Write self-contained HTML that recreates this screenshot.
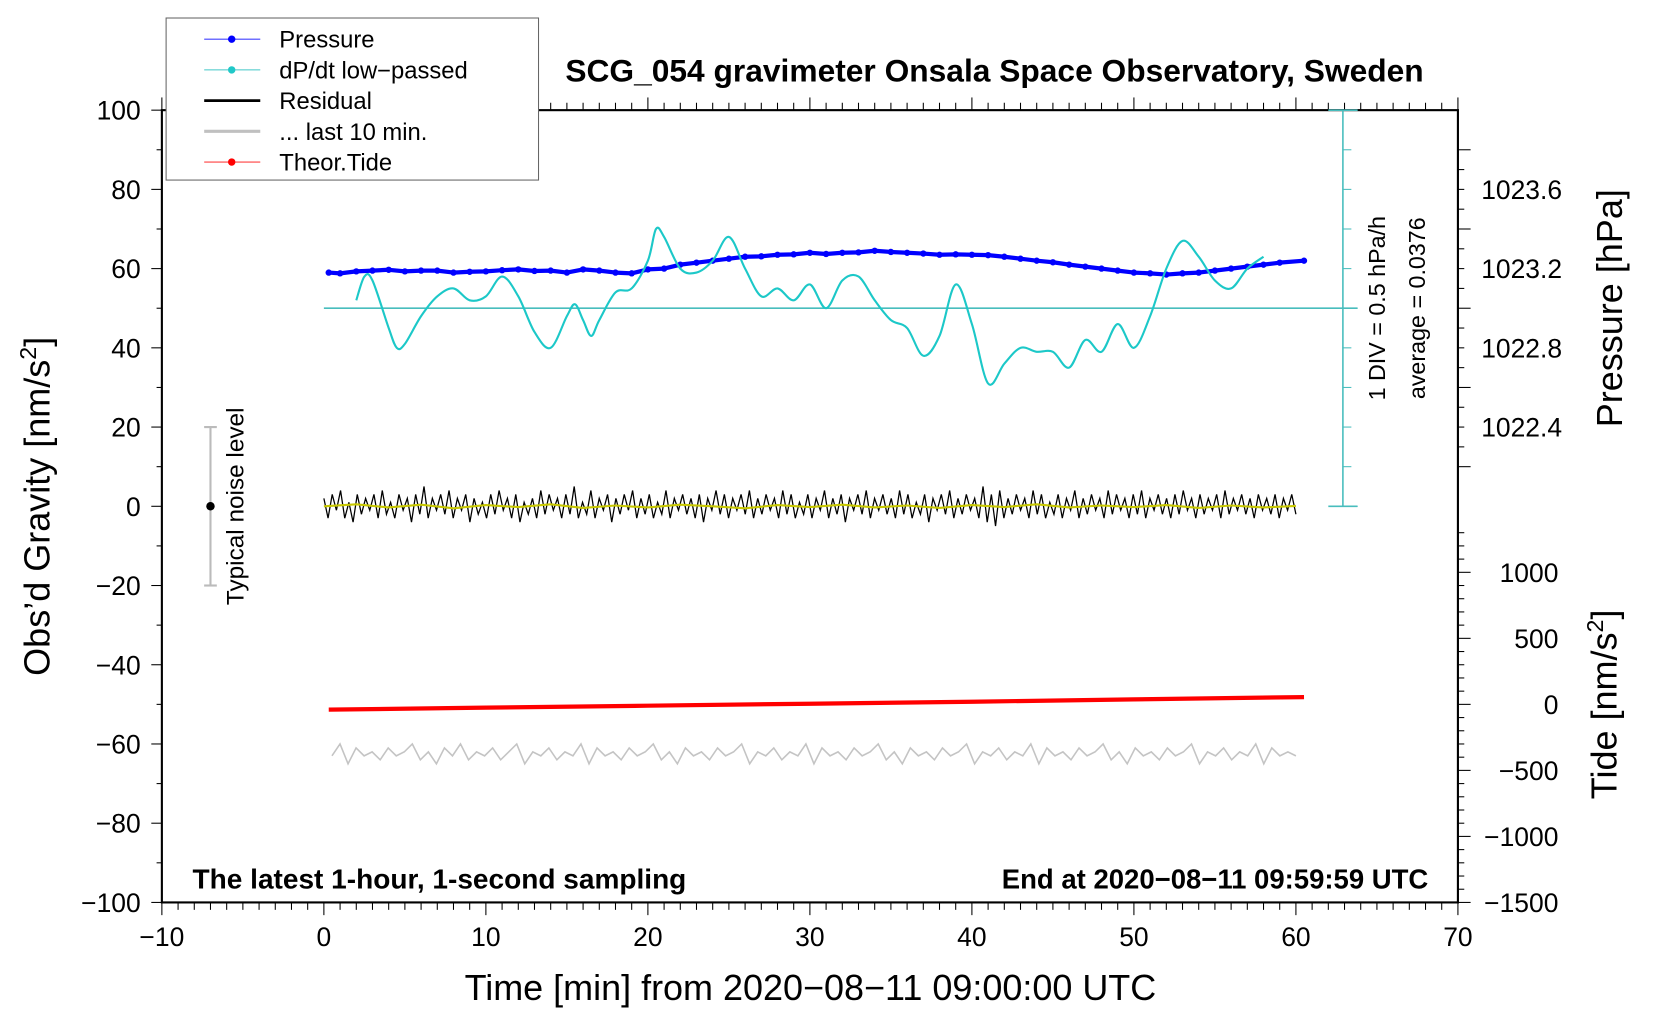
<!DOCTYPE html>
<html><head><meta charset="utf-8"><style>
html,body{margin:0;padding:0;background:#fff;}
svg{display:block;font-family:"Liberation Sans",Arial,sans-serif;}
</style></head><body>
<svg id="chart" width="1660" height="1020" viewBox="0 0 1569 963" preserveAspectRatio="none" xmlns="http://www.w3.org/2000/svg">
<g id="plot"></g>
</svg>
<script>
const pressureTimes=[0.3,1,2,3,4,5,6,7,8,9,10,11,12,13,14,15,16,17,18,19,20,21,22,23,24,25,26,27,28,29,30,31,32,33,34,35,36,37,38,39,40,41,42,43,44,45,46,47,48,49,50,51,52,53,54,55,56,57,58,59,60.5];
const pressureHPa=[1023.18,1023.176,1023.186,1023.19,1023.194,1023.186,1023.19,1023.19,1023.18,1023.184,1023.186,1023.192,1023.196,1023.188,1023.19,1023.18,1023.196,1023.19,1023.18,1023.176,1023.196,1023.2,1023.22,1023.23,1023.24,1023.25,1023.26,1023.262,1023.27,1023.272,1023.28,1023.274,1023.28,1023.282,1023.29,1023.284,1023.28,1023.276,1023.27,1023.272,1023.27,1023.268,1023.26,1023.25,1023.24,1023.232,1023.22,1023.21,1023.2,1023.19,1023.18,1023.176,1023.17,1023.176,1023.18,1023.19,1023.2,1023.21,1023.22,1023.23,1023.24];
const dpdtTimes=[2,2.5,3,4,4.5,5,6,7,8,9,10,11,12,13,14,15,15.5,16,16.5,17,18,19,20,20.5,21,22,23,24,25,26,27,28,29,30,31,32,33,34,35,36,37,38,39,40,41,42,43,44,45,46,47,48,49,50,51,52,53,54,55,56,57,58];
const dpdtUnits=[52,58,57,45,40,41,48,53,55,52,53,58,53,44,40,48,51,47,43,47,54,55,62,70,68,60,59,62,68,60,53,55,52,56,50,57,58,52,47,45,38,43,56,46,31,36,40,39,39,35,42,39,46,40,48,60,67,63,57,55,60,63];
const residual=[2,-3,3,-1,4,-3,1,-4,3,-2,2,-1,3,-3,4,-2,1,-3,3,-1,2,-4,3,-2,5,-3,2,-1,3,-2,4,-3,2,-1,3,-4,2,-2,1,-3,3,-2,4,-1,2,-3,3,-4,1,-2,2,-3,4,-2,3,-1,2,-3,3,-2,5,-3,1,-2,4,-3,2,-1,3,-4,2,-2,3,-1,4,-3,2,-2,3,-3,1,-2,4,-3,2,-1,3,-2,2,-3,3,-4,2,-1,4,-2,3,-3,2,-1,3,-2,4,-3,2,-2,3,-1,2,-3,4,-2,3,-3,1,-2,3,-3,2,-1,4,-3,2,-2,3,-4,2,-1,3,-2,4,-3,2,-1,3,-2,2,-3,4,-2,3,-3,1,-2,3,-4,2,-1,3,-2,4,-3,2,-2,3,-1,2,-3,5,-4,3,-5,4,-3,2,-2,3,-1,2,-3,4,-2,3,-3,1,-2,3,-3,2,-1,4,-3,2,-2,3,-1,2,-3,4,-2,3,-1,2,-3,3,-2,4,-3,2,-1,3,-2,2,-3,3,-2,4,-1,2,-3,3,-2,2,-1,3,-3,4,-2,2,-1,3,-2,2,-3,3,-1,2,-2,3,-3,2,-1,3,-2];
const residualSmooth=[0,0.5,-0.3,0.4,-0.5,0.3,-0.2,0.5,-0.4,0.2,-0.3,0.4,0,-0.5,0.3,-0.2,0.4,-0.3,0.2,-0.4,0.3,-0.2,0.5,-0.3,0.2,-0.2,0.3,-0.4,0.2,-0.3,0.1];
const lastTen=[-63,-60,-65,-61,-63,-62,-64,-61,-63,-62,-60,-64,-62,-65,-61,-63,-60,-64,-62,-63,-61,-64,-62,-60,-65,-62,-63,-61,-64,-62,-63,-60,-65,-61,-63,-62,-64,-61,-63,-62,-60,-64,-62,-65,-61,-63,-62,-64,-61,-63,-62,-60,-65,-62,-63,-61,-64,-62,-63,-60,-65,-61,-63,-62,-64,-61,-63,-62,-60,-64,-62,-65,-61,-63,-62,-64,-61,-63,-62,-60,-65,-62,-63,-61,-64,-62,-63,-60,-65,-61,-63,-62,-64,-61,-63,-62,-60,-64,-62,-65,-61,-63,-62,-64,-61,-63,-62,-60,-65,-62,-63,-61,-64,-62,-63,-60,-65,-61,-63,-62,-63];
const tideTimes=[0.3,10,20,30,40,50,60.5];
const tideValues=[-40,-25,-10,5,20,38,55];
const xTicks=[-10,0,10,20,30,40,50,60,70];
const yTicks=[100,80,60,40,20,0,-20,-40,-60,-80,-100];
const pTicks=[1023.6,1023.2,1022.8,1022.4];
const tideTicks=[1000,500,0,-500,-1000,-1500];

const NS="http://www.w3.org/2000/svg";
const g=document.getElementById('plot');
const L=153,R=1378,T=104,B=852;
const X=v=>L+(v+10)/80*(R-L);
const Y=v=>B-(v+100)/200*(B-T);
const PY=p=>Y(60+(p-1023.2)*50);
const TY=t=>Y(-50+t/30);
const DY=u=>Y(u);
function el(tag,attrs,parent){const e=document.createElementNS(NS,tag);for(const k in attrs)e.setAttribute(k,attrs[k]);(parent||g).appendChild(e);return e;}
function txt(s,attrs){const e=el('text',attrs);e.textContent=s;return e;}
function smooth(pts){let d='M'+pts[0][0]+','+pts[0][1];for(let i=0;i<pts.length-1;i++){const p0=pts[i-1]||pts[i],p1=pts[i],p2=pts[i+1],p3=pts[i+2]||p2;d+=' C'+(p1[0]+(p2[0]-p0[0])/6)+','+(p1[1]+(p2[1]-p0[1])/6)+' '+(p2[0]-(p3[0]-p1[0])/6)+','+(p2[1]-(p3[1]-p1[1])/6)+' '+p2[0]+','+p2[1];}return d;}

let e=el('rect',{x:L,y:T,width:R-L,height:B-T,fill:'none',stroke:'#000','stroke-width':2});

for(let m=-10;m<=70;m++){const big=m%10===0;el('line',{x1:X(m),x2:X(m),y1:B,y2:B+(big?12:7),stroke:'#000','stroke-width':1});el('line',{x1:X(m),x2:X(m),y1:T,y2:T-(big?12:7),stroke:'#000','stroke-width':1});}
xTicks.forEach(v=>{const t=txt(String(v).replace('-','\u2212'),{x:X(v),y:893,'font-size':25,'text-anchor':'middle'});});
for(let v=-100;v<=100;v+=10){const big=v%20===0;el('line',{x1:L,x2:L-(big?10:5),y1:Y(v),y2:Y(v),stroke:'#000','stroke-width':1});}
yTicks.forEach(v=>{const t=txt(String(v).replace('-','\u2212'),{x:133,y:Y(v)+9,'font-size':25,'text-anchor':'end'});});
for(let p=1022.2;p<=1023.9;p+=0.1){const big=Math.abs(Math.round(p*10)%4-2)===0;const y=PY(p);if(y<T||y>B)continue;el('line',{x1:R,x2:R+(big?12:6),y1:y,y2:y,stroke:'#000','stroke-width':1});}
pTicks.forEach(p=>{const t=txt(p.toFixed(1),{x:1400,y:PY(p)+9,'font-size':25});});
for(let t=-1500;t<=1300;t+=100){const y=TY(t);if(y<T||y>B)continue;const big=t%500===0;el('line',{x1:R,x2:R+(big?12:6),y1:y,y2:y,stroke:'#000','stroke-width':1});}
tideTicks.forEach(v=>{const t=txt(String(v).replace('-','\u2212'),{x:1473,y:TY(v)+9,'font-size':25,'text-anchor':'end'});});

el('line',{x1:X(0),x2:X(63.8),y1:Y(50),y2:Y(50),stroke:'#48bdbd','stroke-width':1.5});
el('line',{x1:X(62.9),x2:X(62.9),y1:Y(100),y2:Y(0),stroke:'#48bdbd','stroke-width':1.5});
for(let v=0;v<=100;v+=10){el('line',{x1:X(62.9),x2:X(62.9)+(v%50===0?14:8),y1:Y(v),y2:Y(v),stroke:'#48bdbd','stroke-width':1});}
el('line',{x1:X(62),x2:X(63.8),y1:Y(0),y2:Y(0),stroke:'#48bdbd','stroke-width':1.5});
el('line',{x1:X(62),x2:X(63.8),y1:Y(100),y2:Y(100),stroke:'#48bdbd','stroke-width':1.5});
txt('1 DIV = 0.5 hPa/h',{transform:'translate(1309,291) rotate(-90)','font-size':22,'text-anchor':'middle'});
txt('average = 0.0376',{transform:'translate(1347,291) rotate(-90)','font-size':22,'text-anchor':'middle'});

el('line',{x1:X(-7),x2:X(-7),y1:Y(20),y2:Y(-20),stroke:'#bbb','stroke-width':2});
el('line',{x1:X(-7)-6,x2:X(-7)+6,y1:Y(20),y2:Y(20),stroke:'#bbb','stroke-width':2});
el('line',{x1:X(-7)-6,x2:X(-7)+6,y1:Y(-20),y2:Y(-20),stroke:'#bbb','stroke-width':2});
el('circle',{cx:X(-7),cy:Y(0),r:4,fill:'#000'});
txt('Typical noise level',{transform:'translate(230,478) rotate(-90)','font-size':23,'text-anchor':'middle'});

e=el('polyline',{points:lastTen.map((v,i)=>X(0.5+i*59.5/(lastTen.length-1))+','+Y(v)).join(' '),fill:'none',stroke:'#c4c4c4','stroke-width':1.5});

e=el('polyline',{points:tideTimes.map((t,i)=>X(t)+','+TY(tideValues[i])).join(' '),fill:'none',stroke:'#ff0000','stroke-width':4});

e=el('polyline',{points:residual.map((v,i)=>X(i*60/(residual.length-1))+','+Y(v)).join(' '),fill:'none',stroke:'#000','stroke-width':1.2});

e=el('polyline',{points:residualSmooth.map((v,i)=>X(i*60/(residualSmooth.length-1))+','+Y(v)).join(' '),fill:'none',stroke:'#c8c800','stroke-width':2});

e=el('polyline',{points:pressureTimes.map((t,i)=>X(t)+','+PY(pressureHPa[i])).join(' '),fill:'none',stroke:'#0000ff','stroke-width':4,'stroke-linejoin':'round'});

pressureTimes.forEach((t,i)=>{const c=el('circle',{cx:X(t),cy:PY(pressureHPa[i]),r:3,fill:'#0000ff'});});
e=el('path',{d:smooth(dpdtTimes.map((t,i)=>[X(t),DY(dpdtUnits[i])])),fill:'none',stroke:'#1cc8c8','stroke-width':2});


e=txt('SCG_054 gravimeter Onsala Space Observatory, Sweden',{x:940,y:77,'font-size':30,'font-weight':'bold','text-anchor':'middle'});

txt('The latest 1-hour, 1-second sampling',{x:182,y:839,'font-size':26.5,'font-weight':'bold'});
txt('End at 2020\u221208\u221211 09:59:59 UTC',{x:1350,y:839,'font-size':26,'font-weight':'bold','text-anchor':'end'});
e=txt('Time [min] from 2020\u221208\u221211 09:00:00 UTC',{x:766,y:944,'font-size':34,'text-anchor':'middle'});

e=el('text',{transform:'translate(47,478) rotate(-90)','font-size':34,'text-anchor':'middle'});
e.innerHTML='Obs\u2019d Gravity [nm/s<tspan font-size="22" dy="-13">2</tspan><tspan dy="13">]</tspan>';

e=txt('Pressure [hPa]',{transform:'translate(1533,291) rotate(-90)','font-size':34,'text-anchor':'middle'});

e=el('text',{transform:'translate(1528,665) rotate(-90)','font-size':34,'text-anchor':'middle'});
e.innerHTML='Tide [nm/s<tspan font-size="22" dy="-13">2</tspan><tspan dy="13">]</tspan>';


const lg=el('g',{});

el('rect',{x:157,y:17,width:352,height:153,fill:'#fff',stroke:'#666','stroke-width':1},lg);
const legendItems=[['Pressure','#4040ff',1,true],['dP/dt low\u2212passed','#40c8c8',1,true],['Residual','#000',2.5,false],['... last 10 min.','#c0c0c0',3,false],['Theor.Tide','#ff4040',1,true]];
legendItems.forEach((it,i)=>{const y=37+i*29;const gg=el('g',{},lg);
el('line',{x1:193,x2:246,y1:y,y2:y,stroke:it[1],'stroke-width':it[2]},gg);
if(it[3])el('circle',{cx:219,cy:y,r:3.5,fill:it[1]==='#4040ff'?'#0000ff':(it[1]==='#ff4040'?'#ff0000':'#20c8c8')},gg);
const t=el('text',{x:264,y:y+8,'font-size':22.5},gg);t.textContent=it[0];});
</script>
</body></html>
